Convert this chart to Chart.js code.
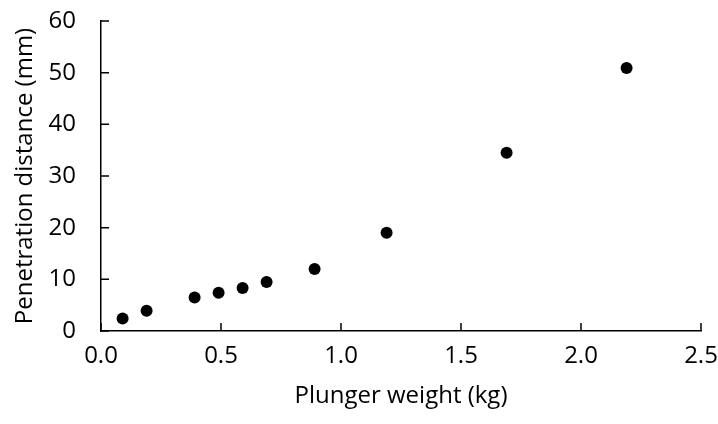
<!DOCTYPE html>
<html>
<head>
<meta charset="utf-8">
<script src="https://cdn.jsdelivr.net/npm/chart.js@4/dist/chart.umd.min.js"></script>
<style>
  html, body { margin: 0; padding: 0; background: #fff; }
  #wrap { width: 718px; height: 424px; }
</style>
</head>
<body>
<div id="wrap"><canvas id="plunger"></canvas></div>
<script>
// 柱塞重量 vs 貫入距離
const WEIGHT_KG = [0.09, 0.19, 0.39, 0.49, 0.59, 0.69, 0.89, 1.19, 1.69, 2.19];
const DEPTH_MM = [2.4, 3.9, 6.5, 7.4, 8.3, 9.5, 12.0, 19.0, 34.5, 50.9];
const X_TICKS = [0, 0.5, 1.0, 1.5, 2.0, 2.5];
const Y_TICKS = [0, 10, 20, 30, 40, 50, 60];

const FONT = "'Open Sans', 'Noto Sans', sans-serif";

// 內側刻度線
const innerTicks = {
  id: "innerTicks",
  afterDraw(chart) {
    const { ctx, scales } = chart;
    const xs = scales.x, ys = scales.y;
    ctx.save();
    ctx.strokeStyle = "#000";
    ctx.lineWidth = 1.5;
    ctx.beginPath();
    X_TICKS.forEach((v) => {
      const px = xs.getPixelForValue(v);
      ctx.moveTo(px, ys.bottom);
      ctx.lineTo(px, ys.bottom - 8);
    });
    Y_TICKS.forEach((v) => {
      const py = ys.getPixelForValue(v);
      ctx.moveTo(xs.left, py);
      ctx.lineTo(xs.left + 8, py);
    });
    ctx.stroke();
    ctx.restore();
  }
};

const points = WEIGHT_KG.map((w, i) => ({ x: w, y: DEPTH_MM[i] }));

new Chart(document.getElementById("plunger"), {
  type: "scatter",
  data: {
    datasets: [
      {
        data: points,
        pointRadius: 6,
        pointHoverRadius: 6,
        backgroundColor: "#000",
        borderColor: "#000",
        borderWidth: 0
      }
    ]
  },
  options: {
    responsive: true,
    maintainAspectRatio: false,
    animation: false,
    layout: { padding: { top: 21, right: 17, left: 0, bottom: 0 } },
    plugins: { legend: { display: false }, tooltip: { enabled: false } },
    scales: {
      x: {
        type: "linear",
        min: 0,
        max: 2.5,
        afterBuildTicks: (s) => { s.ticks = X_TICKS.map((v) => ({ value: v })); },
        afterFit: (s) => {
          s.height = 93;
          s.paddingLeft = 0;
          s.paddingRight = 0;
        },
        ticks: {
          color: "#000",
          padding: 11,
          font: { family: FONT, size: 24 },
          callback: (v) => Number(v).toFixed(1)
        },
        grid: { drawOnChartArea: false, drawTicks: false },
        border: { color: "#000", width: 1.5 },
        title: {
          display: true,
          text: "Plunger weight (kg)",
          color: "#000",
          font: { family: FONT, size: 24 },
          padding: { top: 0, bottom: 13 }
        }
      },
      y: {
        type: "linear",
        min: 0,
        max: 60,
        afterBuildTicks: (s) => { s.ticks = Y_TICKS.map((v) => ({ value: v })); },
        afterFit: (s) => {
          s.width = 101;
          s.paddingTop = 0;
          s.paddingBottom = 0;
        },
        ticks: {
          color: "#000",
          padding: 25,
          font: { family: FONT, size: 24 }
        },
        grid: { drawOnChartArea: false, drawTicks: false },
        border: { color: "#000", width: 1.5 },
        title: {
          display: true,
          text: "Penetration distance (mm)",
          color: "#000",
          font: { family: FONT, size: 24 },
          padding: { top: 11, bottom: 0 }
        }
      }
    }
  },
  plugins: [innerTicks]
});
</script>
</body>
</html>
